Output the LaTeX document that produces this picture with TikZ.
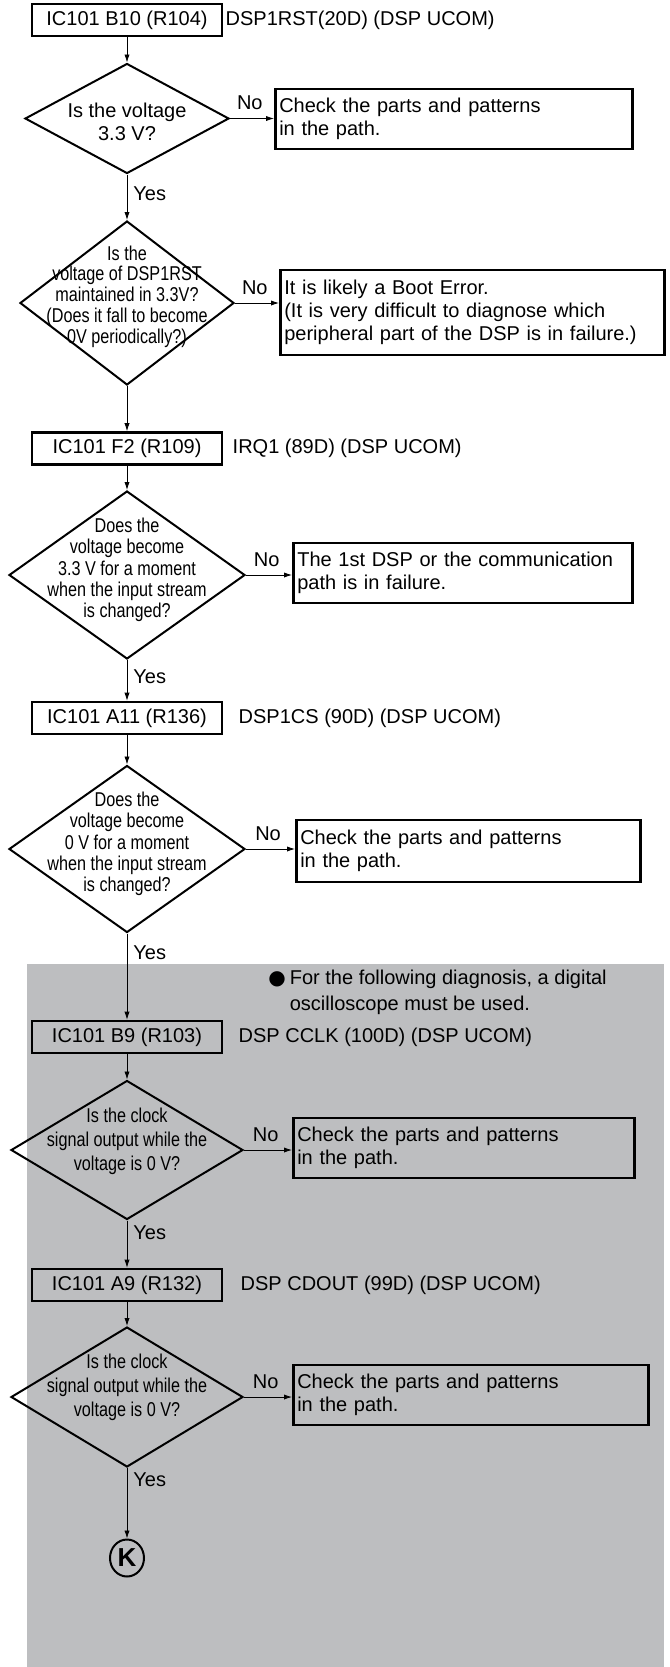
\documentclass[tikz,border=0pt]{standalone}
\usepackage{fontspec}
\setmainfont{Liberation Sans}
\newfontfamily\narrowfont[FakeStretch=0.81]{Liberation Sans}
\newfontfamily\symbolfont{DejaVu Sans}
\usetikzlibrary{arrows.meta,positioning,shapes.geometric}

\definecolor{panelgray}{RGB}{189,190,192}

\tikzset{
    pinbox/.style={draw, line width=1.3pt, minimum width=95pt, minimum height=16pt,
        inner sep=0pt, font=\fontsize{10}{12}\selectfont},
    signal/.style={inner sep=2pt, font=\fontsize{10}{12}\selectfont},
    query/.style={draw, diamond, line width=1pt, inner sep=0pt},
    querytext/.style={align=center, inner sep=0pt, font=\narrowfont\fontsize{10}{10.7}\selectfont},
    result/.style={draw, line width=1.3pt, anchor=west, align=left, inner xsep=2pt,
        text width=#1, font=\fontsize{10}{11.5}\selectfont},
    answer/.style={inner sep=1pt, font=\fontsize{10}{12}\selectfont},
    connector/.style={draw, ellipse, line width=1pt, inner sep=0pt, minimum width=17pt,
        minimum height=18.5pt, font=\fontsize{13}{13}\selectfont\bfseries},
}

\begin{document}
\begin{tikzpicture}[x=0.5pt,y=-0.5pt,>={Latex[length=4pt,width=2.6pt]}]
    \useasboundingbox (0,0) rectangle (670,1667);
    % shaded part: oscilloscope checks
    \fill[panelgray] (27,964) rectangle (664,1667);

    % test points
    \node[pinbox] (b1) at (127,20) {IC101 B10 (R104)};
    \node[signal, right=-1pt of b1] (s1) {DSP1RST(20D) (DSP UCOM)};
    \node[pinbox] (b2) at (127,448.5) {IC101 F2 (R109)};
    \node[signal, right=2.5pt of b2] (s2) {IRQ1 (89D) (DSP UCOM)};
    \node[pinbox] (b3) at (127,718) {IC101 A11 (R136)};
    \node[signal, right=5.5pt of b3] (s3) {DSP1CS (90D) (DSP UCOM)};
    \node[pinbox] (b4) at (127,1037) {IC101 B9 (R103)};
    \node[signal, right=5.5pt of b4] (s4) {DSP CCLK (100D) (DSP UCOM)};
    \node[pinbox] (b5) at (127,1285) {IC101 A9 (R132)};
    \node[signal, right=6.5pt of b5] (s5) {DSP CDOUT (99D) (DSP UCOM)};

    % questions
    \node[query, minimum width=102pt, minimum height=55pt] (q1) at (127,118.5) {};
    \node[querytext, font=\fontsize{10}{11.5}\selectfont] (q1t) at ([yshift=-1.5pt]q1.center)
        {Is the voltage\\3.3 V?};
    \node[query, minimum width=107pt, minimum height=82pt] (q2) at (127,303) {};
    \node[querytext, font=\narrowfont\fontsize{10}{10.4}\selectfont] (q2t) at ([yshift=3.25pt]q2.center)
        {Is the\\voltage of DSP1RST\\maintained in 3.3V?\\(Does it fall to become\\0V periodically?)};
    \node[query, minimum width=118pt, minimum height=84pt] (q3) at (127,575) {};
    \node[querytext] (q3t) at ([yshift=2.5pt]q3.center)
        {Does the\\voltage become\\3.3 V for a moment\\when the input stream\\is changed?};
    \node[query, minimum width=118pt, minimum height=83.5pt] (q4) at (127,849) {};
    \node[querytext] (q4t) at ([yshift=2.5pt]q4.center)
        {Does the\\voltage become\\0 V for a moment\\when the input stream\\is changed?};
    \node[query, minimum width=116pt, minimum height=69.5pt] (q5) at (127,1150) {};
    \node[querytext, font=\narrowfont\fontsize{10}{12}\selectfont] (q5t) at ([yshift=4.5pt]q5.center)
        {Is the clock\\signal output while the\\voltage is 0 V?};
    \node[query, minimum width=116pt, minimum height=70pt] (q6) at (127,1397) {};
    \node[querytext, font=\narrowfont\fontsize{10}{12}\selectfont] (q6t) at ([yshift=5pt]q6.center)
        {Is the clock\\signal output while the\\voltage is 0 V?};

    % results
    \node[result=174.5pt, minimum height=30pt] (c1) at (274,119) {Check the parts and patterns\\in the path.};
    \node[result=188pt, minimum height=42.5pt] (c2) at (279,312.5)
        {It is likely a Boot Error.\\(It is very difficult to diagnose which\\peripheral part of the DSP is in failure.)};
    \node[result=165.5pt, minimum height=30pt] (c3) at (292,573) {The 1st DSP or the communication\\path is in failure.};
    \node[result=168pt, minimum height=31pt] (c4) at (295,851) {Check the parts and patterns\\in the path.};
    \node[result=166.5pt, minimum height=30pt] (c5) at (292,1148) {Check the parts and patterns\\in the path.};
    \node[result=173.5pt, minimum height=30pt] (c6) at (292,1395) {Check the parts and patterns\\in the path.};

    \node[anchor=west, inner sep=0pt, font=\fontsize{10}{12}\selectfont] (n1) at (268,992)
        {\renewcommand\arraystretch{1.08}\begin{tabular}{@{}l@{\hspace{2pt}}l@{}}
            {\symbolfont ●} & For the following diagnosis, a digital\\
             & oscilloscope must be used.
        \end{tabular}};

    \node[connector] (k) at (127,1558) {K};

    % flow
    \draw[->] (b1) -- (q1);
    \draw[->] (q1.east) -- node[answer, above=3pt, pos=.45] {No} (q1.east -| c1.west);
    \draw[->] (q1.south) -- node[answer, right=2pt, pos=.43] {Yes} (q2.north);
    \draw[->] (q2.east) -- node[answer, above=3pt, pos=.45] {No} (q2.east -| c2.west);
    \draw[->] (q2.south) -- (b2.north);
    \draw[->] (b2) -- (q3);
    \draw[->] (q3.east) -- node[answer, above=3pt, pos=.45] {No} (q3.east -| c3.west);
    \draw[->] (q3.south) -- node[answer, right=2pt, pos=.41] {Yes} (b3.north);
    \draw[->] (b3) -- (q4);
    \draw[->] (q4.east) -- node[answer, above=3pt, pos=.45] {No} (q4.east -| c4.west);
    \draw[->] (q4.south) -- node[answer, right=2pt, pos=.225] {Yes} (b4.north);
    \draw[->] (b4) -- (q5);
    \draw[->] (q5.east) -- node[answer, above=3pt, pos=.45] {No} (q5.east -| c5.west);
    \draw[->] (q5.south) -- node[answer, right=2pt, pos=.265] {Yes} (b5.north);
    \draw[->] (b5) -- (q6);
    \draw[->] (q6.east) -- node[answer, above=3pt, pos=.45] {No} (q6.east -| c6.west);
    \draw[->] (q6.south) -- node[answer, right=2pt, pos=.16] {Yes} (k);
\end{tikzpicture}
\end{document}
